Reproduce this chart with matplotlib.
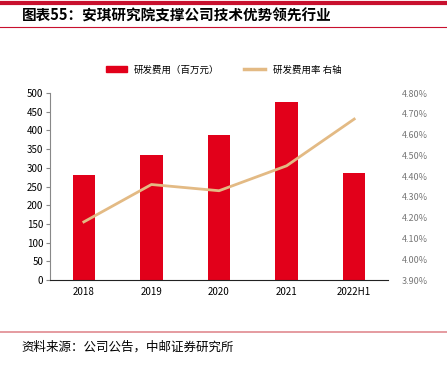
import matplotlib.pyplot as plt
from matplotlib.lines import Line2D
from matplotlib.patches import Patch

plt.rcParams['font.family'] = ['Noto Sans CJK SC', 'DejaVu Sans']

# data
years = ["2018", "2019", "2020", "2021", "2022H1"]
rd_cost = [281, 334, 388, 476, 286]          # 研发费用 (百万元)
rd_ratio = [4.18, 4.36, 4.33, 4.45, 4.675]   # 研发费用率 (%)

bar_color = "#E2001A"
line_color = "#E3BA84"

fig = plt.figure(figsize=(4.47, 3.68), dpi=100)

# header / footer decoration
fig.add_artist(Line2D([0.0, 1.0], [0.991, 0.991], color="#C8102E", lw=3))
fig.add_artist(Line2D([0.0, 1.0], [0.927, 0.927], color="#C8102E", lw=0.8))
fig.add_artist(Line2D([0.0, 1.0], [0.098, 0.098], color="#E08A90", lw=1.2))
fig.text(0.048, 0.957, "图表55：安琪研究院支撑公司技术优势领先行业",
         fontsize=10.5, fontweight="bold", va="center", ha="left")
fig.text(0.048, 0.057, "资料来源：公司公告，中邮证券研究所",
         fontsize=9, va="center", ha="left")

ax = fig.add_axes([0.112, 0.239, 0.756, 0.508])
x = range(len(years))
ax.bar(x, rd_cost, width=0.33, color=bar_color, zorder=2)
ax.set_xlim(-0.5, 4.5)
ax.set_ylim(0, 500)
ax.set_yticks(range(0, 501, 50))
ax.set_xticks(list(x))
ax.set_xticklabels(years)
ax.tick_params(axis="y", labelsize=7, length=3, color="#888888", pad=2)
ax.tick_params(axis="x", labelsize=7, length=0, pad=5)
for s in ["top", "right"]:
    ax.spines[s].set_visible(False)
ax.spines["left"].set_color("#888888")
ax.spines["bottom"].set_color("#222222")

ax2 = ax.twinx()
ax2.plot(list(x), rd_ratio, color=line_color, lw=2, zorder=3)
ax2.set_ylim(3.9, 4.8)
ax2.set_yticks([3.9 + 0.1 * i for i in range(10)])
ax2.set_yticklabels(["%.2f%%" % (3.9 + 0.1 * i) for i in range(10)])
ax2.tick_params(axis="y", labelsize=6.5, length=0, pad=10, labelcolor="#777777")
for s in ["top", "right", "left", "bottom"]:
    ax2.spines[s].set_visible(False)

handles = [Patch(color=bar_color), Line2D([], [], color=line_color, lw=2.5)]
fig.legend(handles, ["研发费用（百万元）", "研发费用率 右轴"],
           loc="center", bbox_to_anchor=(0.50, 0.81), ncol=2, frameon=False,
           fontsize=6.8, handlelength=2.2, handleheight=0.6, columnspacing=2.6)

fig.savefig("out.png", dpi=100)
